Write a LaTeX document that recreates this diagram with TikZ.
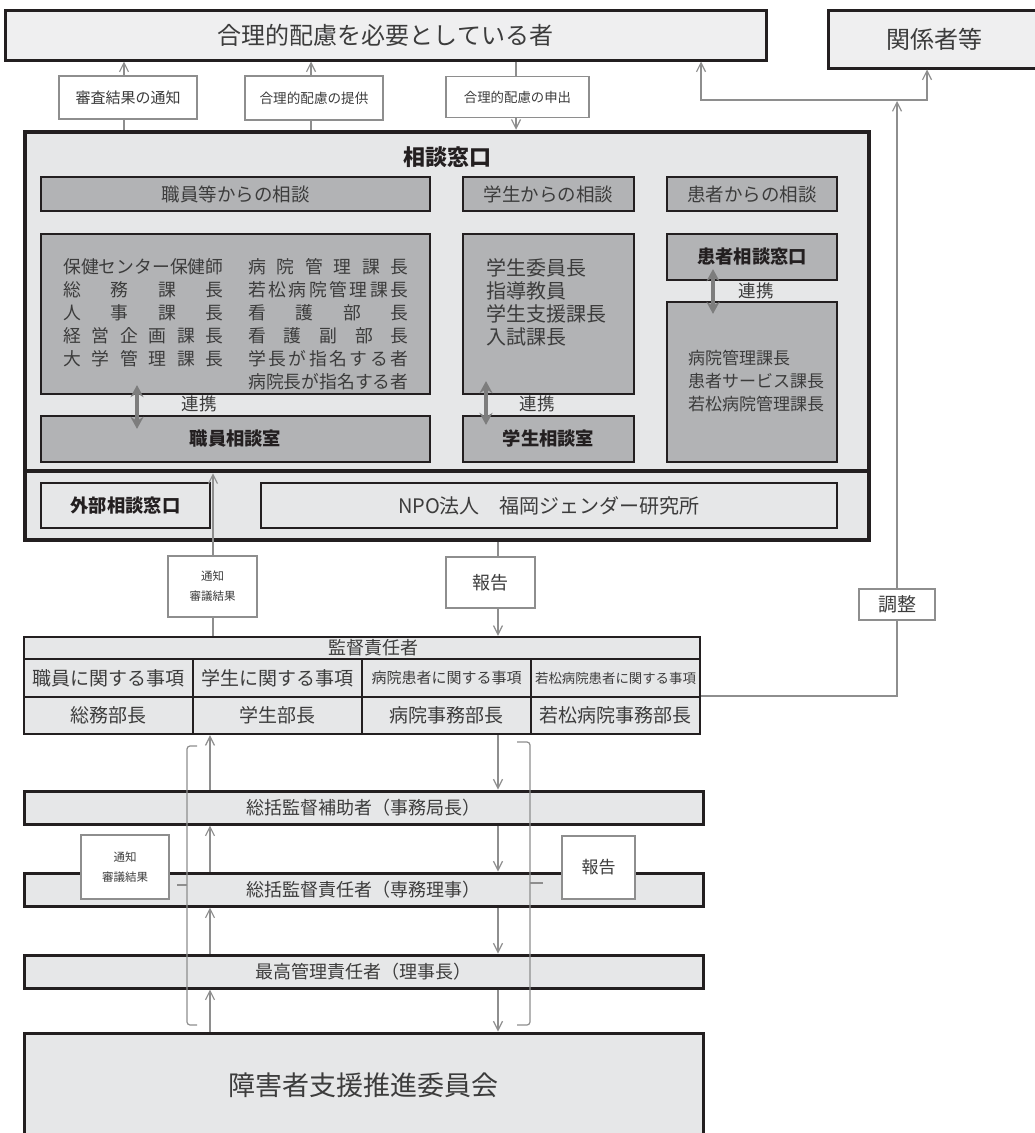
\documentclass[tikz,border=0pt]{standalone}
\usepackage{fontspec}
\setmainfont{Noto Sans CJK JP}
\usetikzlibrary{arrows.meta}

\definecolor{paleGray}{HTML}{EFEFF0}
\definecolor{boxGray}{HTML}{E6E7E8}
\definecolor{midGray}{HTML}{B2B3B5}
\definecolor{lineGray}{HTML}{8E8E8E}
\definecolor{linkGray}{HTML}{7D7D7D}
\definecolor{inkBlack}{HTML}{231F20}
\definecolor{textGray}{HTML}{3C3C3C}
\newcommand{\fsz}[2]{\fontsize{#1}{#2}\selectfont}

\begin{document}
\begin{tikzpicture}[
    x=1pt, y=-1pt,
    every node/.style={inner sep=2pt},
    needbox/.style={draw=inkBlack, line width=3pt, fill=paleGray, text=textGray, font=\fsz{24}{28}},
    tagbox/.style={draw=lineGray, line width=1.2pt, fill=white, text=textGray},
    outerbox/.style={draw=inkBlack, line width=4.5pt, fill=boxGray, minimum width=844pt},
    headbox/.style={draw=inkBlack, line width=2.2pt, fill=midGray, text=textGray, minimum height=34pt, font=\fsz{18.5}{22}},
    roombox/.style={draw=inkBlack, line width=2.2pt, fill=midGray, text=inkBlack, font=\bfseries\fsz{18.3}{22}},
    lightbox/.style={draw=inkBlack, line width=2.2pt, fill=boxGray, minimum height=45pt},
    cell/.style={draw=inkBlack, line width=2.2pt, fill=boxGray, text=textGray, minimum width=169pt},
    bar/.style={draw=inkBlack, line width=3pt, fill=boxGray, text=textGray, minimum width=679pt, minimum height=33pt, font=\fsz{18}{22}},
    member/.style={anchor=west, inner sep=0pt, text=textGray},
    conn/.style={draw=lineGray, line width=1.2pt},
    arr/.style={conn, -{Straight Barb[length=9pt, width=9pt]}},
    arrs/.style={conn, {Straight Barb[length=9pt, width=9pt]}-{Straight Barb[length=9pt, width=9pt]}},
    renkei/.style={draw=linkGray, line width=4pt, {Stealth[length=12pt, width=13pt]}-{Stealth[length=12pt, width=13pt]}},
    brk/.style={conn, rounded corners=3pt}
]
\useasboundingbox (0,0) rectangle (1035,1133);

% Top row
\node[needbox, minimum width=761pt, minimum height=50pt] (needer) at (385.5,35) {合理的配慮を必要としている者};
\node[needbox, minimum width=212pt, minimum height=58pt] (kankei) at (934,39) {関係者等};

\node[tagbox, minimum width=138pt, minimum height=43pt, font=\fsz{15}{18}] (shinsa) at (128,97.5) {審査結果の通知};
\node[tagbox, minimum width=138pt, minimum height=44pt, font=\fsz{13.6}{16}] (teikyo) at (314,98) {合理的配慮の提供};
\node[tagbox, minimum width=143pt, minimum height=41pt, font=\fsz{13.4}{16}] (moshide) at (517.5,97) {合理的配慮の申出};

% Consultation desk
\node[outerbox, minimum height=339pt] (madoguchi) at (447,301.5) {};
\node[outerbox, minimum height=69pt] (gaibu) at (447,505.5) {};
\node[font=\bfseries\fsz{22}{26}, text=inkBlack] (title) at (447,157) {相談窓口};

\node[headbox, minimum width=389pt] (hdStaff) at (235.5,194) {職員等からの相談};
\node[headbox, minimum width=171pt] (hdStud) at (548.5,194) {学生からの相談};
\node[headbox, minimum width=170pt] (hdPat) at (752,194) {患者からの相談};

\node[headbox, minimum width=389pt, minimum height=160pt] (staffbox) at (235.5,314) {};
\node[roombox, minimum width=389pt, minimum height=46pt] (staffroom) at (235.5,439) {職員相談室};
\node[headbox, minimum width=171pt, minimum height=160pt] (studbox) at (548.5,314) {};
\node[roombox, minimum width=171pt, minimum height=46pt] (studroom) at (548.5,439) {学生相談室};
\node[roombox, minimum width=170pt, minimum height=46pt] (patwin) at (752,257) {患者相談窓口};
\node[headbox, minimum width=170pt, minimum height=160pt] (patbox) at (752,382) {};

% Members
\foreach \t [count=\i from 0] in {保健センター保健師, 総\hfill 務\hfill 課\hfill 長, 人\hfill 事\hfill 課\hfill 長, 経\hfill 営\hfill 企\hfill 画\hfill 課\hfill 長, 大\hfill 学\hfill 管\hfill 理\hfill 課\hfill 長}
    \node[member, font=\fsz{17.8}{20}] (stL\i) at (63,267+23*\i) {\makebox[9em][s]{\t}};
\foreach \t [count=\i from 0] in {病\hfill 院\hfill 管\hfill 理\hfill 課\hfill 長, 若\hfill 松\hfill 病\hfill 院\hfill 管\hfill 理\hfill 課\hfill 長, 看\hfill 護\hfill 部\hfill 長, 看\hfill 護\hfill 副\hfill 部\hfill 長, 学\hfill 長\hfill が\hfill 指\hfill 名\hfill す\hfill る\hfill 者, 病院長が指名する者}
    \node[member, font=\fsz{17.8}{20}] (stR\i) at (248,267+23*\i) {\makebox[9em][s]{\t}};
\foreach \t [count=\i from 0] in {学生委員長, 指導教員, 学生支援課長, 入試課長}
    \node[member, font=\fsz{20}{23}] (stu\i) at (486,268+23*\i) {\t};
\foreach \t [count=\i from 0] in {病院管理課長, 患者サービス課長, 若松病院管理課長}
    \node[member, font=\fsz{17}{20}] (pat\i) at (688,358+23*\i) {\t};

% Cooperation arrows
\coordinate (lk1) at (137,0);
\coordinate (lk2) at (486,0);
\coordinate (lk3) at (713,0);
\draw[renkei, shorten <=-10pt, shorten >=-14pt] (staffbox.south -| lk1) -- (staffroom.north -| lk1);
\draw[renkei, shorten <=-14pt, shorten >=-10pt] (studbox.south -| lk2) -- (studroom.north -| lk2);
\draw[renkei, shorten <=-12pt, shorten >=-13pt] (patwin.south -| lk3) -- (patbox.north -| lk3);
\node[font=\fsz{17.5}{20}, text=textGray] (rk1) at (199,404) {連携};
\node[font=\fsz{17.5}{20}, text=textGray] (rk2) at (537,404) {連携};
\node[font=\fsz{17.5}{20}, text=textGray] (rk3) at (756,291) {連携};

% Outside desk
\node[lightbox, minimum width=169pt, text=inkBlack, font=\bfseries\fsz{18.3}{22}] (soto) at (125.5,505.5) {外部相談窓口};
\node[lightbox, minimum width=576pt, text=textGray, font=\fsz{20}{24}] (npo) at (549,505.5) {NPO法人　福岡ジェンダー研究所};

% Supervisors table
\node[cell, minimum width=676pt, minimum height=22pt, font=\fsz{18}{20}] (kantoku) at (362,648) {\hspace*{22pt}監督責任者};
\foreach \t/\s [count=\i] in {職員に関する事項/19, 学生に関する事項/19, 病院患者に関する事項/15, 若松病院患者に関する事項/13.4}
    \node[cell, minimum height=38pt, font=\fsz{\s}{\s}] (r2c\i) at (169*\i-60.5,678) {\t};
\foreach \t [count=\i] in {総務部長, 学生部長, 病院事務部長, 若松病院事務部長}
    \node[cell, minimum height=37pt, font=\fsz{19}{22}] (r3c\i) at (169*\i-60.5,715.5) {\t};

% Notes between desk and table
\node[tagbox, minimum width=89pt, minimum height=61pt, align=center, font=\fsz{11.5}{20}] (tsuchi1) at (212.5,586.5) {通知\\審議結果};
\node[tagbox, minimum width=89pt, minimum height=51pt, font=\fsz{18}{22}] (hokoku1) at (490.5,582.5) {報告};
\node[tagbox, minimum width=76pt, minimum height=31pt, font=\fsz{19}{22}] (chosei) at (897,604.5) {調整};

% Management chain
\node[bar] (hojo) at (363.5,807.5) {総括監督補助者（事務局長）};
\node[bar] (sekinin) at (363.5,889.5) {総括監督責任者（専務理事）};
\node[bar] (saiko) at (363.5,971.5) {最高管理責任者（理事長）};
\node[bar, minimum height=104pt, font=\fsz{27}{32}] (iinkai) at (363.5,1085) {障害者支援推進委員会};

% Brackets
\draw[brk] (197,746) -- (187,746) -- (187,1025) -- (197,1025);
\draw[conn] (187,885) -- (177,885);
\draw[brk] (517,742) -- (530,742) -- (530,1025) -- (517,1025);
\draw[conn] (530,883) -- (543,883);

\node[tagbox, minimum width=88pt, minimum height=64pt, align=center, font=\fsz{11.5}{20}] (tsuchi2) at (125,867) {通知\\審議結果};
\node[tagbox, minimum width=73pt, minimum height=63pt, font=\fsz{17}{20}] (hokoku2) at (598.5,867.5) {報告};

% Connectors at top
\coordinate (x1) at (124,0);
\coordinate (x2) at (311,0);
\coordinate (x3) at (516,0);
\draw[conn] (madoguchi.north -| x1) -- (shinsa.south -| x1);
\draw[arr] (shinsa.north -| x1) -- (needer.south -| x1);
\draw[conn] (madoguchi.north -| x2) -- (teikyo.south -| x2);
\draw[arr] (teikyo.north -| x2) -- (needer.south -| x2);
\draw[conn] (needer.south -| x3) -- (moshide.north -| x3);
\draw[arr] (moshide.south -| x3) -- (madoguchi.north -| x3);

% Coordination on the right
\coordinate (jL) at (701,100);
\coordinate (jR) at (927,100);
\coordinate (jM) at (897,100);
\draw[arrs] (needer.south -| jL) -- (jL) -- (jR) -- (kankei.south -| jR);
\draw[arr, shorten >=1pt] (chosei.north) -- (jM);
\draw[conn] (chosei.south) |- (r3c4.north east);

% Desk <-> table
\coordinate (ux) at (213,0);
\coordinate (dx) at (498,0);
\draw[conn] (kantoku.north -| ux) -- (tsuchi1.south -| ux);
\draw[arr, shorten >=4.5pt] (tsuchi1.north -| ux) -- (gaibu.north -| ux);
\draw[conn] (gaibu.south -| dx) -- (hokoku1.north -| dx);
\draw[arr] (hokoku1.south -| dx) -- (kantoku.north -| dx);

% Chain arrows
\coordinate (upx) at (210,0);
\coordinate (dnx) at (498,0);
\foreach \a/\b in {hojo/r3c2, sekinin/hojo, saiko/sekinin, iinkai/saiko}
    \draw[arr] (\a.north -| upx) -- (\b.south -| upx);
\foreach \a/\b in {r3c3/hojo, hojo/sekinin, sekinin/saiko, saiko/iinkai}
    \draw[arr] (\a.south -| dnx) -- (\b.north -| dnx);

\end{tikzpicture}
\end{document}
